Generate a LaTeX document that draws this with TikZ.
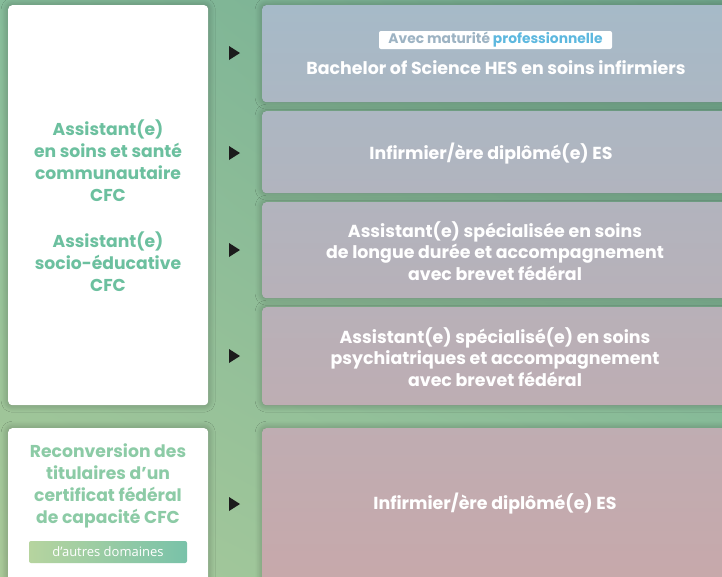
\documentclass[tikz,border=0pt]{standalone}
\usepackage{fontspec}
\usetikzlibrary{shadows.blur,shadings}
\newfontfamily\pop{Poppins}
\newfontfamily\osans{Open Sans}
\definecolor{bgTL}{HTML}{86BC9A}
\definecolor{bgTR}{HTML}{72A88E}
\definecolor{bgBL}{HTML}{A9C999}
\definecolor{bgBR}{HTML}{8EC19C}
\definecolor{rT}{HTML}{A6BAC8}
\definecolor{rB}{HTML}{C8A8AA}
\definecolor{lgreen}{HTML}{6CC09F}
\definecolor{rgreen}{HTML}{8CCBA6}
\definecolor{tricol}{HTML}{1C1C1C}
\definecolor{pillgrey}{HTML}{9DB3C3}
\definecolor{pillblue}{HTML}{5DB8DF}
\definecolor{dgl}{HTML}{B6D49F}
\definecolor{dgr}{HTML}{79C2A9}
\tikzset{
  card/.style={rectangle, rounded corners=4pt, anchor=north west, inner sep=0pt,
    blur shadow={shadow xshift=0pt, shadow yshift=0pt, shadow blur radius=7pt, shadow blur steps=12, shadow opacity=30}},
  lbox/.style={card, fill=white},
  rtxt/.style={font=\pop\bfseries\fontsize{17.4}{21.5}\selectfont, text=white, align=center},
  ltxt/.style={font=\pop\bfseries\fontsize{17.2}{22}\selectfont, text=lgreen, align=center},
  tri/.style={fill=tricol}
}
\begin{document}
\begin{tikzpicture}[x=1pt,y=-1pt]
\useasboundingbox (0,0) rectangle (722,576);
\shade[upper left=bgTL, upper right=bgTR, lower left=bgBL, lower right=bgBR] (0,0) rectangle (722,576);

% left cards
\node[lbox, minimum width=200, minimum height=400] (L1) at (8,5) {};
\node[lbox, minimum width=200, minimum height=170] (L2) at (8,428) {};

% right cards
\node[card, minimum width=470, minimum height=97, top color=rT!100!rB, bottom color=rT!83!rB] (R1) at (262,5) {};
\node[card, minimum width=470, minimum height=82, top color=rT!81!rB, bottom color=rT!67!rB] (R2) at (262,111) {};
\node[card, minimum width=470, minimum height=96, top color=rT!65!rB, bottom color=rT!49!rB] (R3) at (262,202) {};
\node[card, minimum width=470, minimum height=98, top color=rT!47!rB, bottom color=rT!30!rB] (R4) at (262,307) {};
\node[card, minimum width=470, minimum height=170, top color=rT!26!rB, bottom color=rT!0!rB] (R5) at (262,428) {};

% left texts
\node[ltxt] (t1) at (108,161) {Assistant(e)\\en soins et santé\\communautaire\\CFC};
\node[ltxt] (t2) at (108,262) {Assistant(e)\\socio-éducative\\CFC};
\node[ltxt, text=rgreen] (t3) at (108,486) {Reconversion des\\titulaires d’un\\certificat fédéral\\de capacité CFC};
\node[left color=dgl, right color=dgr, rounded corners=2pt, minimum width=158, minimum height=22, inner sep=0pt,
  font=\osans\fontsize{13}{14}\selectfont, text=white] (dom) at (108,552) {d’autres domaines};

% right texts
\node[fill=white, rounded corners=2pt, minimum width=233, minimum height=18, inner sep=0pt,
  font=\pop\bfseries\fontsize{13.8}{14}\selectfont] (pill) at (495.5,40)
  {\textcolor{pillgrey}{Avec maturité} \textcolor{pillblue}{professionnelle}};
\node[rtxt] (a1) at (496,68) {Bachelor of Science HES en soins infirmiers};
\node[rtxt] (a2) at (491,154) {Infirmier/ère diplômé(e) ES};
\node[rtxt] (a3) at (495,251) {Assistant(e) spécialisée en soins\\de longue durée et accompagnement\\avec brevet fédéral};
\node[rtxt] (a4) at (495,357) {Assistant(e) spécialisé(e) en soins\\psychiatriques et accompagnement\\avec brevet fédéral};
\node[rtxt] (a5) at (495,504) {Infirmier/ère diplômé(e) ES};

% arrow markers
\foreach \yy in {53,153,250,356,504}{
  \fill[tri] (229,\yy-7) -- (240,\yy) -- (229,\yy+7) -- cycle;
}
\end{tikzpicture}
\end{document}
